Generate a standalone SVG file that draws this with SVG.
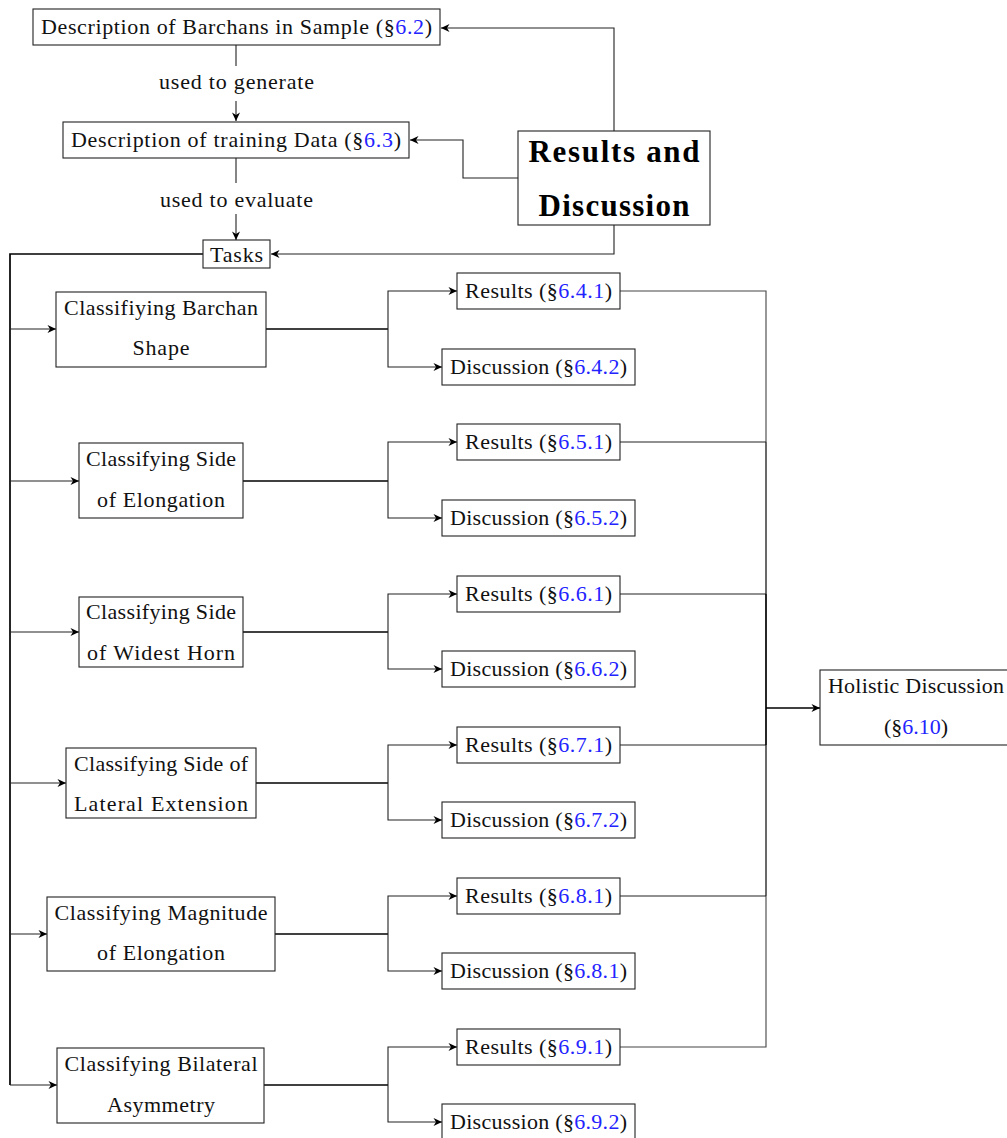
<svg xmlns="http://www.w3.org/2000/svg" width="1007" height="1138" viewBox="0 0 1007 1138">
  <defs>
    <marker id="arr" markerUnits="userSpaceOnUse" markerWidth="12" markerHeight="10" viewBox="-9 -5 10 10" refX="0" refY="0" orient="auto">
      <path d="M0,0 L-8.5,-4 L-6,0 L-8.5,4 Z" fill="#000"/>
    </marker>
    <style>
      .box { fill: #fff; stroke: #222; stroke-width: 1.1; }
      .t { font-family: "Liberation Serif", "DejaVu Serif", serif; font-size: 22px; fill: #111; text-anchor: middle; }
      .b { font-family: "Liberation Serif", "DejaVu Serif", serif; font-size: 31px; font-weight: bold; fill: #000; text-anchor: middle; }
      .ln { fill: none; stroke: #222; stroke-width: 1.1; }
      .lt { fill: none; stroke: #444; stroke-width: 1.1; }
      .md { fill: none; stroke: #1a1a1a; stroke-width: 1.3; }
      .thk { fill: none; stroke: #000; stroke-width: 1.7; }
      .lk { fill: #2323ff; }
    </style>
  </defs>

  <!-- connectors -->
  <g id="connectors">
    <!-- top chain -->
    <path class="ln" d="M236,45 V66"/>
    <path class="ln" d="M236,101 V121" marker-end="url(#arr)"/>
    <path class="ln" d="M236,158 V183"/>
    <path class="ln" d="M236,214 V240" marker-end="url(#arr)"/>
    <!-- from Results and Discussion -->
    <path class="ln" d="M614,131 V28 H441" marker-end="url(#arr)"/>
    <path class="ln" d="M518,178 H463 V140 H410" marker-end="url(#arr)"/>
    <path class="ln" d="M614,225 V254 H271" marker-end="url(#arr)"/>
    <!-- task trunk -->
    <path class="thk" d="M203,254 H10 V1085"/>
    <path class="ln" d="M10,329 H56" marker-end="url(#arr)"/>
    <path class="ln" d="M10,481 H79" marker-end="url(#arr)"/>
    <path class="ln" d="M10,632 H79" marker-end="url(#arr)"/>
    <path class="ln" d="M10,783 H66" marker-end="url(#arr)"/>
    <path class="ln" d="M10,934 H47" marker-end="url(#arr)"/>
    <path class="ln" d="M10,1085 H57" marker-end="url(#arr)"/>
    <!-- task splits -->
    <path class="thk" d="M266,329 H388"/>
    <path class="ln" d="M388,329 V291 H457" marker-end="url(#arr)"/>
    <path class="ln" d="M388,329 V367 H442" marker-end="url(#arr)"/>
    <path class="thk" d="M243,481 H388"/>
    <path class="ln" d="M388,481 V442 H457" marker-end="url(#arr)"/>
    <path class="ln" d="M388,481 V518 H442" marker-end="url(#arr)"/>
    <path class="thk" d="M243,632 H388"/>
    <path class="ln" d="M388,632 V594 H457" marker-end="url(#arr)"/>
    <path class="ln" d="M388,632 V669 H442" marker-end="url(#arr)"/>
    <path class="thk" d="M256,783 H388"/>
    <path class="ln" d="M388,783 V745 H457" marker-end="url(#arr)"/>
    <path class="ln" d="M388,783 V820 H442" marker-end="url(#arr)"/>
    <path class="thk" d="M275,934 H388"/>
    <path class="ln" d="M388,934 V896 H457" marker-end="url(#arr)"/>
    <path class="ln" d="M388,934 V971 H442" marker-end="url(#arr)"/>
    <path class="thk" d="M264,1085 H388"/>
    <path class="ln" d="M388,1085 V1047 H457" marker-end="url(#arr)"/>
    <path class="ln" d="M388,1085 V1122 H442" marker-end="url(#arr)"/>
    <!-- results to holistic discussion: the collector gets darker where more edges overlap -->
    <path class="lt" d="M620,291 H766 V442"/>
    <path class="lt" d="M766,896 V1047 H620"/>
    <path class="ln" d="M620,442 H766 M620,594 H766 M620,745 H766 M620,896 H766"/>
    <path class="md" d="M766,442 V594 M766,745 V896"/>
    <path class="thk" d="M766,594 V745"/>
    <path class="thk" d="M766,708 H820" marker-end="url(#arr)"/>
  </g>

  <!-- edge labels -->
  <g id="labels">
    <text class="t" x="236.5" y="89" textLength="155">used to generate</text>
    <text class="t" x="236.5" y="207" textLength="153">used to evaluate</text>
  </g>

  <g id="desc-sample">
    <rect class="box" x="33" y="9" width="407" height="36"/>
    <text class="t" x="236.5" y="34" textLength="391">Description of Barchans in Sample (§<tspan class="lk">6.2</tspan>)</text>
  </g>
  <g id="desc-training">
    <rect class="box" x="63" y="122" width="346" height="36"/>
    <text class="t" x="236" y="147" textLength="330">Description of training Data (§<tspan class="lk">6.3</tspan>)</text>
  </g>
  <g id="tasks">
    <rect class="box" x="203" y="240" width="67" height="28"/>
    <text class="t" x="236.5" y="262" textLength="53">Tasks</text>
  </g>
  <g id="results-discussion">
    <rect class="box" x="518" y="131" width="192" height="94"/>
    <text class="b" x="614" y="162" textLength="171">Results and</text>
    <text class="b" x="614" y="216" textLength="151">Discussion</text>
  </g>

  <!-- task nodes -->
  <g id="task-shape">
    <rect class="box" x="56" y="292" width="210" height="75"/>
    <text class="t" x="161" y="315" textLength="194">Classifiying Barchan</text>
    <text class="t" x="161" y="355" textLength="57">Shape</text>
  </g>
  <g id="task-elongation-side">
    <rect class="box" x="79" y="443" width="164" height="75"/>
    <text class="t" x="161" y="466" textLength="150">Classifying Side</text>
    <text class="t" x="161" y="507" textLength="128">of Elongation</text>
  </g>
  <g id="task-widest-horn">
    <rect class="box" x="79" y="597" width="164" height="70"/>
    <text class="t" x="161" y="619" textLength="150">Classifying Side</text>
    <text class="t" x="161" y="660" textLength="148">of Widest Horn</text>
  </g>
  <g id="task-lateral-extension">
    <rect class="box" x="66" y="748" width="190" height="70"/>
    <text class="t" x="161" y="771" textLength="174">Classifying Side of</text>
    <text class="t" x="161" y="811" textLength="174">Lateral Extension</text>
  </g>
  <g id="task-elongation-magnitude">
    <rect class="box" x="47" y="897" width="228" height="74"/>
    <text class="t" x="161" y="920" textLength="213">Classifying Magnitude</text>
    <text class="t" x="161" y="960" textLength="128">of Elongation</text>
  </g>
  <g id="task-bilateral-asymmetry">
    <rect class="box" x="57" y="1048" width="207" height="75"/>
    <text class="t" x="161" y="1071" textLength="193">Classifying Bilateral</text>
    <text class="t" x="161" y="1112" textLength="108">Asymmetry</text>
  </g>

  <!-- results / discussion nodes -->
  <g id="res-641"><rect class="box" x="457" y="273" width="163" height="36"/><text class="t" x="538.5" y="298" textLength="147">Results (§<tspan class="lk">6.4.1</tspan>)</text></g>
  <g id="dis-642"><rect class="box" x="442" y="349" width="193" height="36"/><text class="t" x="538.5" y="374" textLength="177">Discussion (§<tspan class="lk">6.4.2</tspan>)</text></g>
  <g id="res-651"><rect class="box" x="457" y="424" width="163" height="36"/><text class="t" x="538.5" y="449" textLength="147">Results (§<tspan class="lk">6.5.1</tspan>)</text></g>
  <g id="dis-652"><rect class="box" x="442" y="500" width="193" height="36"/><text class="t" x="538.5" y="525" textLength="177">Discussion (§<tspan class="lk">6.5.2</tspan>)</text></g>
  <g id="res-661"><rect class="box" x="457" y="576" width="163" height="36"/><text class="t" x="538.5" y="601" textLength="147">Results (§<tspan class="lk">6.6.1</tspan>)</text></g>
  <g id="dis-662"><rect class="box" x="442" y="651" width="193" height="36"/><text class="t" x="538.5" y="676" textLength="177">Discussion (§<tspan class="lk">6.6.2</tspan>)</text></g>
  <g id="res-671"><rect class="box" x="457" y="727" width="163" height="36"/><text class="t" x="538.5" y="752" textLength="147">Results (§<tspan class="lk">6.7.1</tspan>)</text></g>
  <g id="dis-672"><rect class="box" x="442" y="802" width="193" height="36"/><text class="t" x="538.5" y="827" textLength="177">Discussion (§<tspan class="lk">6.7.2</tspan>)</text></g>
  <g id="res-681"><rect class="box" x="457" y="878" width="163" height="36"/><text class="t" x="538.5" y="903" textLength="147">Results (§<tspan class="lk">6.8.1</tspan>)</text></g>
  <g id="dis-681"><rect class="box" x="442" y="953" width="193" height="36"/><text class="t" x="538.5" y="978" textLength="177">Discussion (§<tspan class="lk">6.8.1</tspan>)</text></g>
  <g id="res-691"><rect class="box" x="457" y="1029" width="163" height="36"/><text class="t" x="538.5" y="1054" textLength="147">Results (§<tspan class="lk">6.9.1</tspan>)</text></g>
  <g id="dis-692"><rect class="box" x="442" y="1104" width="193" height="36"/><text class="t" x="538.5" y="1129" textLength="177">Discussion (§<tspan class="lk">6.9.2</tspan>)</text></g>

  <g id="holistic">
    <rect class="box" x="820" y="670" width="192" height="75"/>
    <text class="t" x="916" y="693" textLength="176">Holistic Discussion</text>
    <text class="t" x="916" y="734" textLength="64">(§<tspan class="lk">6.10</tspan>)</text>
  </g>
</svg>
